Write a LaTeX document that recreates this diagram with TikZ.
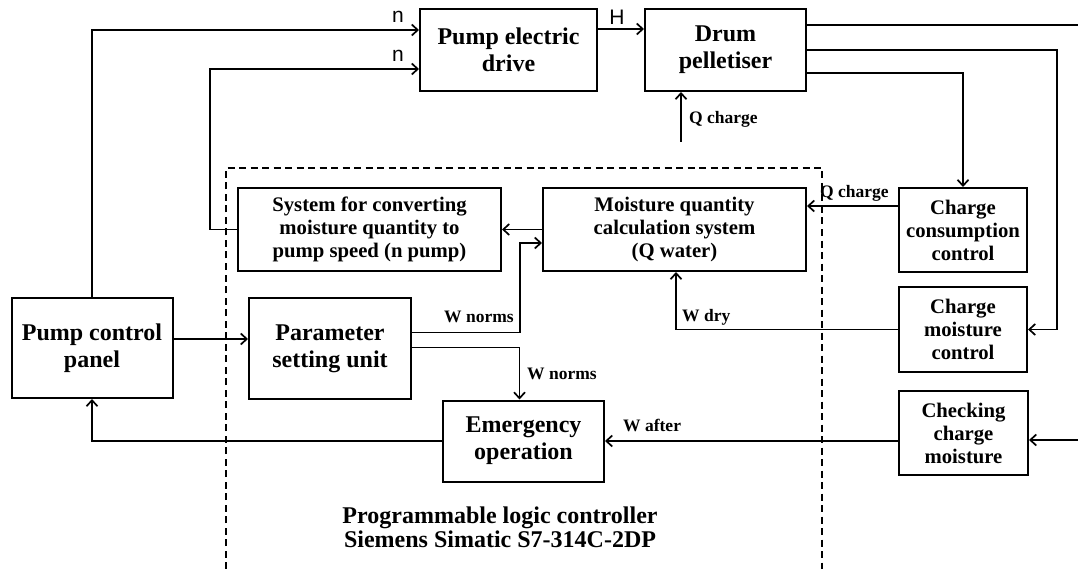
\documentclass[tikz,border=0pt]{standalone}
\usepackage{fontspec}
\setmainfont{Liberation Serif}
\newfontfamily\sansf{Liberation Sans}
\usetikzlibrary{arrows.meta}
\begin{document}
\begin{tikzpicture}[x=1pt,y=-1pt,
  box/.style={draw, line width=2pt, align=center, font=\bfseries\fontsize{24}{27}\selectfont, inner sep=1pt},
  sbox/.style={box, font=\bfseries\fontsize{20.7}{23}\selectfont},
  arr/.style={line width=1.7pt, -{Straight Barb[length=6pt,width=11pt,line width=1.7pt]}},
  ln/.style={line width=1.7pt},
  lab/.style={font=\bfseries\fontsize{17.5}{20}\selectfont, inner sep=0pt, anchor=base west},
  slab/.style={font=\sansf\fontsize{21}{23}\selectfont, inner sep=0pt, anchor=base},
  plc/.style={font=\bfseries\fontsize{24}{27}\selectfont, inner sep=0pt, anchor=base},
  frame/.style={line width=1.5pt, dash pattern=on 7pt off 4.5pt}]
\useasboundingbox (0,0) rectangle (1078,569);

% dashed controller frame
\draw[frame] (226,569) -- (226,168) -- (822,168) -- (822,569);

% blocks
\node[box, minimum width=161pt, minimum height=100pt] (pcp) at (92,348) {Pump control\\panel};
\node[box, minimum width=177pt, minimum height=82pt] (ped) at (508.5,50) {Pump electric\\drive};
\node[box, minimum width=161pt, minimum height=82pt] (drum) at (725.5,50) {Drum\\pelletiser};
\node[sbox, minimum width=263pt, minimum height=83pt] (conv) at (369.5,229.5) {System for converting\\moisture quantity to\\pump speed (n pump)};
\node[sbox, minimum width=263pt, minimum height=83pt] (mqc) at (674.5,229.5) {Moisture quantity\\calculation system\\(Q water)};
\node[box, minimum width=162pt, minimum height=101pt] (psu) at (330,348.5) {Parameter\\setting unit};
\node[box, minimum width=161pt, minimum height=81pt] (emo) at (523.5,441) {Emergency\\operation};
\node[sbox, minimum width=128pt, minimum height=84pt] (ccc) at (963,230) {Charge\\consumption\\control};
\node[sbox, minimum width=128pt, minimum height=85pt] (cmc) at (963,329.5) {Charge\\moisture\\control};
\node[sbox, minimum width=129pt, minimum height=84pt] (ccm) at (963.5,433) {Checking\\charge\\moisture};

% free ends
\coordinate (qin) at (681,142);
\coordinate (rout) at (1078,25);
\coordinate (rin) at (1078,440);

% connectors
\draw[arr] (pcp.north) |- ([yshift=20pt]ped.west);
\draw[arr] (conv.west) -- ++(-27,0) |- ([yshift=-19pt]ped.west);
\draw[arr] ([yshift=21pt]ped.east) -- ([yshift=21pt]drum.west);
\draw[arr] (qin) -- (qin |- drum.south);
\draw[ln] ([yshift=25pt]drum.east) -- (rout);
\draw[arr] (drum.east) -- ++(250,0) |- (cmc.east);
\draw[arr] ([yshift=-23pt]drum.east) -| (ccc.north);
\draw[arr] ([yshift=24pt]ccc.west) -- ([yshift=24pt]ccc.west -| mqc.east);
\draw[arr] (mqc.west) -- (conv.east);
\draw[arr] ([yshift=16pt]psu.east) -- ++(108,0) |- ([yshift=-13.5pt]mqc.west);
\draw[arr] ([yshift=1pt]psu.east) -| ([xshift=-4pt]emo.north);
\draw[arr] (cmc.west) -| ([xshift=1.5pt]mqc.south);
\draw[arr] (ccm.west |- emo.east) -- (emo.east);
\draw[arr] (rin) -- (rin -| ccm.east);
\draw[arr] (emo.west) -| (pcp.south);
\draw[arr] ([yshift=9pt]pcp.east) -- ([yshift=9pt]pcp.east -| psu.west);

% labels
\node[slab] (n1) at (398,23) {n};
\node[slab] (n2) at (398,62) {n};
\node[slab] (hl) at (617,25) {H};
\node[lab] (l1) at (689,124) {Q charge};
\node[lab] (l2) at (820,198) {Q charge};
\node[lab] (l3) at (444,322) {W norms};
\node[lab] (l4) at (527,379) {W norms};
\node[lab] (l5) at (682,321) {W dry};
\node[lab] (l6) at (623,431) {W after};
\node[plc] (p1) at (500,523) {Programmable logic controller};
\node[plc] (p2) at (500,547) {Siemens Simatic S7-314C-2DP};
\end{tikzpicture}
\end{document}
